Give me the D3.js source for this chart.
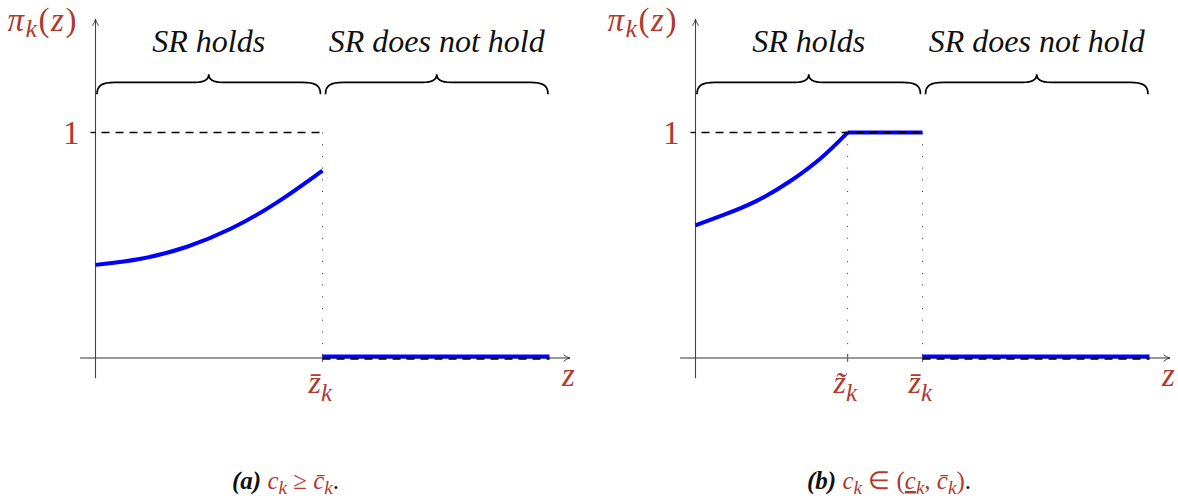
<!DOCTYPE html>
<html><head><meta charset="utf-8">
<script src="https://cdn.jsdelivr.net/npm/d3@7"></script>
<style>
html,body{margin:0;padding:0;background:#fff;}
svg{display:block;}
</style></head>
<body><svg id="c" width="1178" height="502"></svg>
<script>
// ---- data ----
const curveZA = [0, 0.1, 0.2, 0.3, 0.4, 0.5];
const curvePiA = [0.413, 0.435, 0.487, 0.570, 0.685, 0.831];
const curveZB = [0, 0.061, 0.135, 0.208, 0.282, 0.335];
const curvePiB = [0.588, 0.633, 0.692, 0.780, 0.891, 1.0];
const zTildeB = 0.335;
const zBar = 0.5;
const zEnd = 1.0;
const regionLabels = ["SR holds", "SR does not hold"];
const yTickLabel = "1";

const RED = "#b03a2e";
const FONT = "Liberation Serif";
const svg = d3.select("#c");

const panels = [
  {id: "a", origin: 95.5, zs: curveZA, pis: curvePiA, flatOne: null, marks: [{v: zBar, lab: "z\u0304"}]},
  {id: "b", origin: 695.5, zs: curveZB, pis: curvePiB, flatOne: [zTildeB, zBar], marks: [{v: zTildeB, lab: "z\u0303"}, {v: zBar, lab: "z\u0304"}]}
];

panels.forEach(p => {
  const x = d3.scaleLinear().domain([0, 1]).range([p.origin, p.origin + 454]);
  const y = d3.scaleLinear().domain([0, 1]).range([358, 132.5]);
  const g = svg.append("g").attr("font-family", FONT);

  const mid = "arr" + p.id;
  svg.append("defs").append("marker").attr("id", mid).attr("viewBox", "0 0 10 10")
    .attr("refX", 9).attr("refY", 5).attr("markerWidth", 8).attr("markerHeight", 8)
    .attr("markerUnits", "userSpaceOnUse").attr("orient", "auto")
    .append("path").attr("d", "M1,1 Q5,4 9,5 Q5,6 1,9").attr("fill", "none")
    .attr("stroke", "#222").attr("stroke-width", 1);

  // axes
  g.append("line").attr("x1", x(-0.034)).attr("x2", x(1.045)).attr("y1", y(0)).attr("y2", y(0))
    .attr("stroke", "#333").attr("stroke-width", 1.1).attr("marker-end", `url(#${mid})`);
  g.append("line").attr("x1", x(0)).attr("x2", x(0)).attr("y1", y(-0.09)).attr("y2", y(1.502))
    .attr("stroke", "#444").attr("stroke-width", 1.1).attr("marker-end", `url(#${mid})`);

  // y tick at 1
  g.append("line").attr("x1", x(0) - 5).attr("x2", x(0)).attr("y1", y(1)).attr("y2", y(1))
    .attr("stroke", "#000").attr("stroke-width", 1.4);
  g.append("text").attr("x", x(0) - 16).attr("y", y(1) + 11).attr("text-anchor", "end")
    .attr("fill", RED).attr("font-size", 33).text(yTickLabel);

  // dotted verticals + tick labels
  p.marks.forEach(m => {
    g.append("line").attr("x1", x(m.v)).attr("x2", x(m.v)).attr("y1", y(1)).attr("y2", y(0))
      .attr("stroke", "#333").attr("stroke-width", 1).attr("stroke-dasharray", "1,10.7");
    g.append("line").attr("x1", x(m.v)).attr("x2", x(m.v)).attr("y1", y(0) - 4).attr("y2", y(0) + 4)
      .attr("stroke", "#666").attr("stroke-width", 1.2);
    const t = g.append("text").attr("x", x(m.v) - 14).attr("y", 393).attr("fill", RED)
      .attr("font-size", 32).attr("font-style", "italic");
    t.append("tspan").text(m.lab);
    t.append("tspan").attr("font-size", 25).attr("dy", 8).text("k");
  });

  // blue curve
  const line = d3.line().x(d => x(d[0])).y(d => y(d[1])).curve(d3.curveBasis);
  g.append("path").datum(d3.zip(p.zs, p.pis)).attr("d", line).attr("fill", "none")
    .attr("stroke", "#0000ff").attr("stroke-width", 4);
  if (p.flatOne) {
    g.append("path").datum([[p.flatOne[0], 1], [p.flatOne[1], 1]]).attr("d", line)
      .attr("fill", "none").attr("stroke", "#0000ff").attr("stroke-width", 4);
  }
  g.append("path").datum([[zBar, 0], [zEnd, 0]]).attr("d", line).attr("fill", "none")
    .attr("stroke", "#0000ff").attr("stroke-width", 4).attr("transform", "translate(0,-1.5)");

  // dashed lines
  g.append("line").attr("x1", x(0)).attr("x2", x(zBar)).attr("y1", y(1)).attr("y2", y(1))
    .attr("stroke", "#000").attr("stroke-width", 1.7).attr("stroke-dasharray", "8,6").attr("stroke-dashoffset", -6);
  g.append("line").attr("x1", x(zBar)).attr("x2", x(zEnd)).attr("y1", y(0) + 0.8).attr("y2", y(0) + 0.8)
    .attr("stroke", "#000").attr("stroke-width", 1.7).attr("stroke-dasharray", "8,6");

  // braces
  function brace(x1, x2) {
    const m = (x1 + x2) / 2, yb = y(1.17), yh = y(1.222), yt = y(1.258);
    return `M${x1},${yb} C${x1},${yh + 3} ${x1 + 5},${yh} ${x1 + 18},${yh} L${m - 14},${yh} C${m - 5},${yh} ${m},${yh - 2} ${m},${yt}` +
      ` C${m},${yh - 2} ${m + 5},${yh} ${m + 14},${yh} L${x2 - 18},${yh} C${x2 - 5},${yh} ${x2},${yh + 3} ${x2},${yb}`;
  }
  const spans = [[x(0) + 1.5, x(zBar) - 2], [x(zBar) + 3, x(zEnd) - 1.5]];
  spans.forEach((s, i) => {
    g.append("path").attr("d", brace(s[0], s[1])).attr("fill", "none").attr("stroke", "#000").attr("stroke-width", 1.7);
    g.append("text").attr("x", (s[0] + s[1]) / 2).attr("y", y(1.356)).attr("text-anchor", "middle")
      .attr("font-size", 32).attr("font-style", "italic").attr("fill", "#111").text(regionLabels[i]);
  });

  // y label
  const yl = g.append("text").attr("x", x(0) - 88).attr("y", 31).attr("fill", RED)
    .attr("font-size", 33).attr("letter-spacing", 1.5);
  yl.append("tspan").attr("font-style", "italic").text("π");
  yl.append("tspan").attr("font-style", "italic").attr("font-size", 26).attr("dy", 6).text("k");
  yl.append("tspan").attr("dy", -6).text("(");
  yl.append("tspan").attr("font-style", "italic").text("z");
  yl.append("tspan").text(")");

  // x label
  g.append("text").attr("x", x(1.045) - 8).attr("y", 386).attr("fill", RED).attr("font-size", 33)
    .attr("font-style", "italic").text("z");
});

// captions
function caption(cx, tag, build) {
  const t = svg.append("text").attr("x", cx).attr("y", 489).attr("font-size", 25)
    .attr("font-family", FONT).attr("text-anchor", "start");
  t.append("tspan").attr("font-weight", "bold").attr("font-style", "italic").attr("fill", "#111").text(tag + " ");
  build(t);
  return t;
}
const SUB = 19;
caption(232, "(a)", t => {
  t.append("tspan").attr("fill", RED).attr("font-style", "italic").text("c");
  t.append("tspan").attr("fill", RED).attr("font-style", "italic").attr("font-size", SUB).attr("dy", 5).text("k");
  t.append("tspan").attr("fill", RED).attr("dy", -5).text(" ≥ ");
  t.append("tspan").attr("fill", RED).attr("font-style", "italic").text("c\u0304");
  t.append("tspan").attr("fill", RED).attr("font-style", "italic").attr("font-size", SUB).attr("dy", 5).text("k");
  t.append("tspan").attr("fill", "#111").attr("dy", -5).text(".");
});
caption(807, "(b)", t => {
  t.append("tspan").attr("fill", RED).attr("font-style", "italic").text("c");
  t.append("tspan").attr("fill", RED).attr("font-style", "italic").attr("font-size", SUB).attr("dy", 5).text("k");
  t.append("tspan").attr("fill", RED).attr("dy", -5).text(" ∈ (");
  t.append("tspan").attr("fill", RED).attr("font-style", "italic").attr("text-decoration", "underline").text("c");
  t.append("tspan").attr("fill", RED).attr("font-style", "italic").attr("font-size", SUB).attr("dy", 5).text("k");
  t.append("tspan").attr("fill", RED).attr("dy", -5).text(", ");
  t.append("tspan").attr("fill", RED).attr("font-style", "italic").text("c\u0304");
  t.append("tspan").attr("fill", RED).attr("font-style", "italic").attr("font-size", SUB).attr("dy", 5).text("k");
  t.append("tspan").attr("fill", RED).attr("dy", -5).text(")");
  t.append("tspan").attr("fill", "#111").text(".");
});
</script></body></html>
